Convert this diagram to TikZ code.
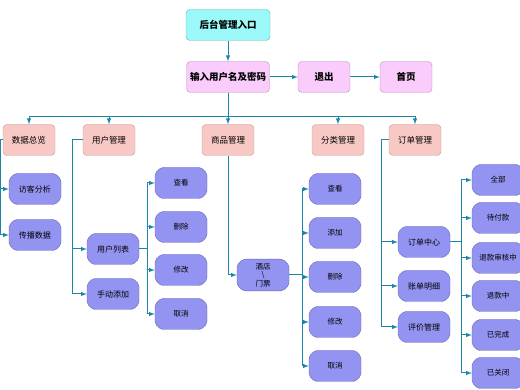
\documentclass[tikz,border=0pt]{standalone}
\usepackage{fontspec}
\newfontfamily\cjk{Noto Sans CJK SC}
\usetikzlibrary{arrows, shapes.misc}

\definecolor{linkc}{HTML}{1B86A8}
\definecolor{cyanfill}{HTML}{9CF9F9}
\definecolor{cyanline}{HTML}{62B4BC}
\definecolor{pinkfill}{HTML}{F9CCFB}
\definecolor{pinkline}{HTML}{B792B8}
\definecolor{salmonfill}{HTML}{F8C9C4}
\definecolor{salmonline}{HTML}{C49A96}
\definecolor{bluefill}{HTML}{9393F2}
\definecolor{blueline}{HTML}{6767B0}

\tikzset{
    >=latex,
    lnk/.style={draw=linkc, line width=1pt, ->},
    entrybox/.style={draw=cyanline, fill=cyanfill, rounded corners=4pt, minimum width=84pt, minimum height=31pt, font=\cjk\fontsize{9.5}{10}\selectfont\bfseries},
    loginbox/.style={draw=pinkline, fill=pinkfill, rounded corners=4pt, minimum width=83pt, minimum height=31pt, inner sep=1pt, font=\cjk\fontsize{9.5}{10}\selectfont\bfseries},
    menubox/.style={draw=salmonline, fill=salmonfill, rounded corners=4pt, minimum width=52pt, minimum height=31pt, font=\cjk\fontsize{8.5}{10}\selectfont},
    subbox/.style={draw=blueline, fill=bluefill, chamfered rectangle, chamfered rectangle xsep=3pt, rounded corners=2pt, minimum width=52pt, minimum height=31pt, inner sep=1pt, font=\cjk\fontsize{8}{9}\selectfont},
    leafbox/.style={subbox, font=\cjk\fontsize{7.5}{8}\selectfont}
}

\begin{document}
\begin{tikzpicture}[x=1pt, y=-1pt]
    \useasboundingbox (0, 0) rectangle (520, 390);

    % top
    \node[entrybox] (entry) at (228, 25) {后台管理入口};
    \node[loginbox] (login) at (228, 77) {输入用户名及密码};
    \node[loginbox, minimum width=52pt] (logout) at (324, 77) {退出};
    \node[loginbox, minimum width=52pt] (home) at (406, 77) {首页};

    % menus
    \node[menubox] (sjzl) at (29, 140) {数据总览};
    \node[menubox] (yhgl) at (109, 140) {用户管理};
    \node[menubox] (spgl) at (228, 140) {商品管理};
    \node[menubox] (flgl) at (338, 140) {分类管理};
    \node[menubox] (ddgl) at (415, 140) {订单管理};

    % data
    \node[subbox] (fkfx) at (35, 189) {访客分析};
    \node[subbox] (cbsj) at (35, 235) {传播数据};

    % users
    \node[subbox] (yhlb) at (113, 249) {用户列表};
    \node[subbox] (sdtj) at (113, 294) {手动添加};
    \node[leafbox] (yhck) at (181, 183) {查看};
    \node[leafbox] (yhsc) at (181, 227) {删除};
    \node[leafbox] (yhxg) at (181, 270) {修改};
    \node[leafbox] (yhqx) at (181, 314) {取消};

    % goods
    \node[subbox, align=center, font=\cjk\fontsize{7.5}{8.5}\selectfont] (jdmp) at (263, 275) {酒店\\\textbackslash\\门票};
    \node[leafbox] (spck) at (335, 189) {查看};
    \node[leafbox] (sptj) at (335, 233) {添加};
    \node[leafbox] (spsc) at (335, 277) {删除};
    \node[leafbox] (spxg) at (335, 322) {修改};
    \node[leafbox] (spqx) at (335, 366) {取消};

    % orders
    \node[subbox] (ddzx) at (424, 242) {订单中心};
    \node[subbox] (zdmx) at (424, 286) {账单明细};
    \node[subbox] (pjgl) at (424, 327) {评价管理};
    \node[leafbox] (qb) at (498, 180) {全部};
    \node[leafbox] (dfk) at (498, 218) {待付款};
    \node[leafbox] (tksh) at (498, 258) {退款审核中};
    \node[leafbox] (tkz) at (498, 296) {退款中};
    \node[leafbox] (ywc) at (498, 335) {已完成};
    \node[leafbox] (ygb) at (498, 373) {已关闭};

    \coordinate (bus) at (228, 117);

    \draw[lnk] (entry.south) -- (login.north);
    \draw[lnk] (login.east) -- (logout.west);
    \draw[lnk] (logout.east) -- (home.west);

    \draw[lnk] (login.south) -- (bus) -| (sjzl.north);
    \draw[lnk] (login.south) -- (bus) -| (yhgl.north);
    \draw[lnk] (login.south) -- (spgl.north);
    \draw[lnk] (login.south) -- (bus) -| (flgl.north);
    \draw[lnk] (login.south) -- (bus) -| (ddgl.north);

    \draw[lnk] (sjzl.west) -- ++(-2, 0) |- (fkfx.west);
    \draw[lnk] (sjzl.west) -- ++(-2, 0) |- (cbsj.west);

    \draw[lnk] (yhgl.west) -- ++(-10, 0) |- (yhlb.west);
    \draw[lnk] (yhgl.west) -- ++(-10, 0) |- (sdtj.west);
    \draw[lnk] (yhlb.east) -- ++(8, 0) |- (yhck.west);
    \draw[lnk] (yhlb.east) -- ++(8, 0) |- (yhsc.west);
    \draw[lnk] (yhlb.east) -- ++(8, 0) |- (yhxg.west);
    \draw[lnk] (yhlb.east) -- ++(8, 0) |- (yhqx.west);

    \draw[lnk] (spgl.south) |- (jdmp.west);
    \draw[lnk] (jdmp.east) -- ++(13, 0) |- (spck.west);
    \draw[lnk] (jdmp.east) -- ++(13, 0) |- (sptj.west);
    \draw[lnk] (jdmp.east) -- ++(13, 0) |- (spsc.west);
    \draw[lnk] (jdmp.east) -- ++(13, 0) |- (spxg.west);
    \draw[lnk] (jdmp.east) -- ++(13, 0) |- (spqx.west);

    \draw[lnk] (ddgl.west) -- ++(-7, 0) |- (ddzx.west);
    \draw[lnk] (ddgl.west) -- ++(-7, 0) |- (zdmx.west);
    \draw[lnk] (ddgl.west) -- ++(-7, 0) |- (pjgl.west);
    \draw[lnk] (ddzx.east) -- ++(11, 0) |- (qb.west);
    \draw[lnk] (ddzx.east) -- ++(11, 0) |- (dfk.west);
    \draw[lnk] (ddzx.east) -- ++(11, 0) |- (tksh.west);
    \draw[lnk] (ddzx.east) -- ++(11, 0) |- (tkz.west);
    \draw[lnk] (ddzx.east) -- ++(11, 0) |- (ywc.west);
    \draw[lnk] (ddzx.east) -- ++(11, 0) |- (ygb.west);
\end{tikzpicture}
\end{document}
